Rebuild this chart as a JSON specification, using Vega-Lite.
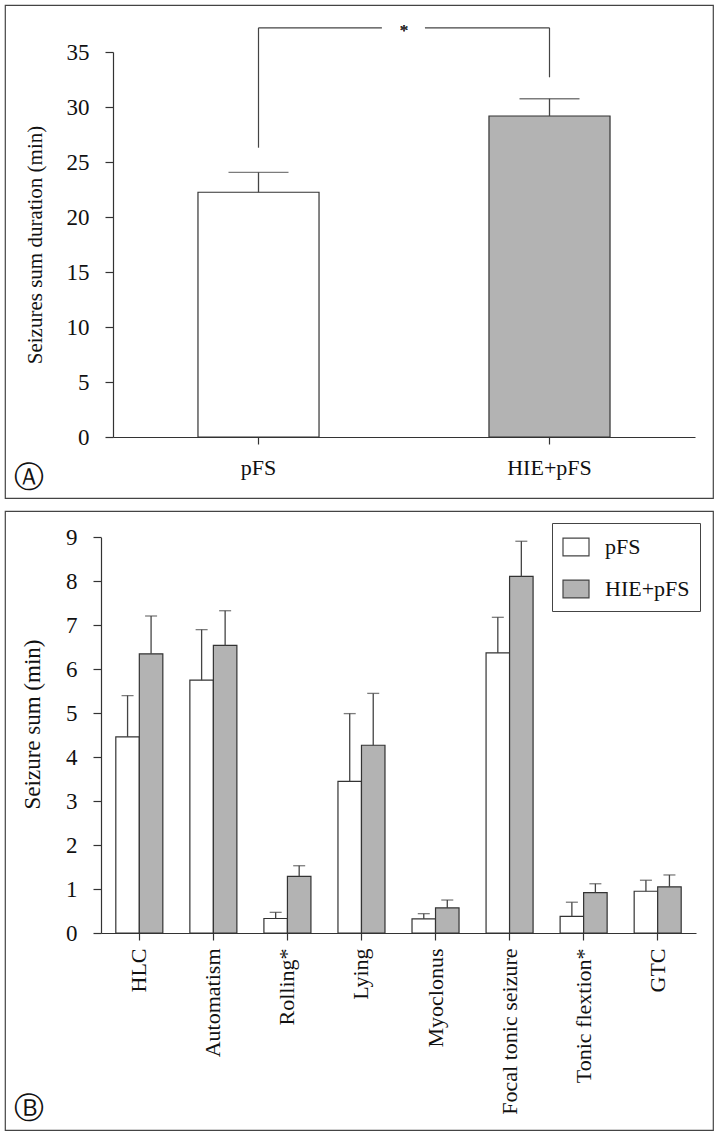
{
  "$schema": "https://vega.github.io/schema/vega-lite/v6.json",
  "padding": {"left": 4, "top": 4, "right": 0, "bottom": 0},
  "background": "white",
  "spacing": 11,
  "config": {
    "view": {"stroke": "#444", "strokeWidth": 1.2},
    "font": "Liberation Serif",
    "axis": {
      "labelFont": "Liberation Serif", "titleFont": "Liberation Serif",
      "labelColor": "#111", "titleColor": "#111",
      "domainColor": "#333", "tickColor": "#333",
      "grid": false, "titleFontWeight": "normal",
      "labelFontSize": 22, "titleFontSize": 21,
      "tickSize": 8, "domainWidth": 1.2, "tickWidth": 1.2
    },
    "title": {"font": "DejaVu Sans", "fontSize": 30, "fontWeight": "normal", "color": "#111"}
  },
  "resolve": {"scale": {"fill": "independent"}, "legend": {"fill": "independent"}},
  "vconcat": [
    {
      "width": 708,
      "height": 493,
      "title": {"text": "Ⓐ", "orient": "bottom", "anchor": "start", "frame": "group", "baseline": "middle", "align": "center", "offset": -20, "dx": 24},
      "layer": [
        {
          "data": {"values": [
            {"group": "pFS", "mean": 22.25, "upper": 24.06},
            {"group": "HIE+pFS", "mean": 29.18, "upper": 30.75}
          ]},
          "encoding": {
            "x": {"field": "group", "type": "nominal", "sort": ["pFS", "HIE+pFS"],
                  "scale": {"range": [108, 690], "paddingInner": 0.584, "paddingOuter": 0.292},
                  "axis": {"title": null, "labelAngle": 0, "offset": -61, "labelPadding": 13, "tickSize": 7, "labelFontSize": 22, "labelFont": "Liberation Serif"}},
            "y": {"field": "mean", "type": "quantitative",
                  "scale": {"domain": [0, 35], "range": [432, 47], "nice": false, "zero": true},
                  "axis": {"title": "Seizures sum duration (min)", "values": [0, 5, 10, 15, 20, 25, 30, 35], "offset": -108, "labelPadding": 16, "titlePadding": 21, "labelFontSize": 23, "titleFontSize": 21, "labelFont": "Liberation Serif", "titleFont": "Liberation Serif"}}
          },
          "layer": [
            {
              "mark": {"type": "bar", "stroke": "#333", "strokeWidth": 1.2},
              "encoding": {
                "fill": {"field": "group", "type": "nominal", "scale": {"domain": ["pFS", "HIE+pFS"], "range": ["#ffffff", "#b3b3b3"]}, "legend": null}
              }
            },
            {
              "mark": {"type": "rule", "color": "#444", "strokeWidth": 1.3},
              "encoding": {"y2": {"field": "upper"}}
            },
            {
              "mark": {"type": "tick", "color": "#444", "thickness": 1.3, "size": 60},
              "encoding": {"y": {"field": "upper", "type": "quantitative"}}
            }
          ]
        },
        {
          "data": {"values": [
            {"x": 0.5, "x2": 0.5, "y": 26.3, "y2": 37.2},
            {"x": 0.5, "x2": 0.924, "y": 37.2, "y2": 37.2},
            {"x": 1.072, "x2": 1.5, "y": 37.2, "y2": 37.2},
            {"x": 1.5, "x2": 1.5, "y": 32.7, "y2": 37.2}
          ]},
          "layer": [
            {
              "mark": {"type": "rule", "color": "#444", "strokeWidth": 1.2},
              "encoding": {
                "x": {"field": "x", "type": "quantitative", "scale": {"domain": [0, 2], "range": [108, 690], "nice": false, "zero": false}, "axis": null},
                "x2": {"field": "x2"},
                "y": {"field": "y", "type": "quantitative", "scale": {"domain": [0, 35], "range": [432, 47], "nice": false}, "axis": null},
                "y2": {"field": "y2"}
              }
            },
            {
              "mark": {"type": "text", "text": "*", "fontSize": 17, "font": "Liberation Serif", "baseline": "alphabetic", "dy": 8, "color": "#333"},
              "encoding": {
                "x": {"datum": 1, "type": "quantitative"},
                "y": {"datum": 37.2, "type": "quantitative"}
              }
            }
          ]
        }
      ],
      "resolve": {"scale": {"x": "independent"}, "axis": {"x": "independent", "y": "independent"}}
    },
    {
      "width": 708,
      "height": 619,
      "title": {"text": "Ⓑ", "orient": "bottom", "anchor": "start", "frame": "group", "baseline": "middle", "align": "center", "offset": -21, "dx": 24},
      "data": {"values": [
        {"category": "HLC", "group": "pFS", "mean": 4.46, "upper": 5.40},
        {"category": "HLC", "group": "HIE+pFS", "mean": 6.35, "upper": 7.21},
        {"category": "Automatism", "group": "pFS", "mean": 5.75, "upper": 6.90},
        {"category": "Automatism", "group": "HIE+pFS", "mean": 6.54, "upper": 7.33},
        {"category": "Rolling*", "group": "pFS", "mean": 0.33, "upper": 0.47},
        {"category": "Rolling*", "group": "HIE+pFS", "mean": 1.29, "upper": 1.53},
        {"category": "Lying", "group": "pFS", "mean": 3.45, "upper": 4.99},
        {"category": "Lying", "group": "HIE+pFS", "mean": 4.27, "upper": 5.45},
        {"category": "Myoclonus", "group": "pFS", "mean": 0.32, "upper": 0.44},
        {"category": "Myoclonus", "group": "HIE+pFS", "mean": 0.57, "upper": 0.75},
        {"category": "Focal tonic seizure", "group": "pFS", "mean": 6.37, "upper": 7.18},
        {"category": "Focal tonic seizure", "group": "HIE+pFS", "mean": 8.11, "upper": 8.91},
        {"category": "Tonic flextion*", "group": "pFS", "mean": 0.38, "upper": 0.70},
        {"category": "Tonic flextion*", "group": "HIE+pFS", "mean": 0.92, "upper": 1.12},
        {"category": "GTC", "group": "pFS", "mean": 0.95, "upper": 1.20},
        {"category": "GTC", "group": "HIE+pFS", "mean": 1.05, "upper": 1.32}
      ]},
      "encoding": {
        "x": {"field": "category", "type": "nominal",
              "sort": ["HLC", "Automatism", "Rolling*", "Lying", "Myoclonus", "Focal tonic seizure", "Tonic flextion*", "GTC"],
              "scale": {"range": [96, 691], "paddingInner": 0.365, "paddingOuter": 0.2},
              "axis": {"title": null, "labelAngle": -90, "offset": -197, "labelPadding": 8, "tickSize": 7, "labelFontSize": 22, "labelFont": "Liberation Serif"}},
        "xOffset": {"field": "group", "type": "nominal", "sort": ["pFS", "HIE+pFS"], "scale": {"paddingInner": 0, "paddingOuter": 0}},
        "y": {"field": "mean", "type": "quantitative",
              "scale": {"domain": [0, 9], "range": [422, 26.3], "nice": false},
              "axis": {"title": "Seizure sum (min)", "values": [0, 1, 2, 3, 4, 5, 6, 7, 8, 9], "offset": -96, "labelPadding": 16, "titlePadding": 21, "titleY": 213, "labelFontSize": 23, "titleFontSize": 23, "labelFont": "Liberation Serif", "titleFont": "Liberation Serif"}}
      },
      "layer": [
        {
          "mark": {"type": "bar", "stroke": "#333", "strokeWidth": 1.2},
          "encoding": {
            "fill": {"field": "group", "type": "nominal",
                     "scale": {"domain": ["pFS", "HIE+pFS"], "range": ["#ffffff", "#b3b3b3"]},
                     "legend": {"orient": "none", "legendX": 547, "legendY": 12, "title": null,
                                "strokeColor": "#444", "padding": 10, "fillColor": "white",
                                "labelFont": "Liberation Serif", "labelFontSize": 22, "labelColor": "#111",
                                "symbolType": "M-1,-0.69H1V0.69H-1Z", "symbolSize": 676,
                                "symbolStrokeColor": "#444", "symbolStrokeWidth": 1.2,
                                "labelOffset": 15, "rowPadding": 16}}
          }
        },
        {
          "mark": {"type": "rule", "color": "#444", "strokeWidth": 1.3},
          "encoding": {"y2": {"field": "upper"}}
        },
        {
          "mark": {"type": "tick", "color": "#444", "thickness": 1.3, "size": 12},
          "encoding": {"y": {"field": "upper", "type": "quantitative"}}
        }
      ]
    }
  ]
}
